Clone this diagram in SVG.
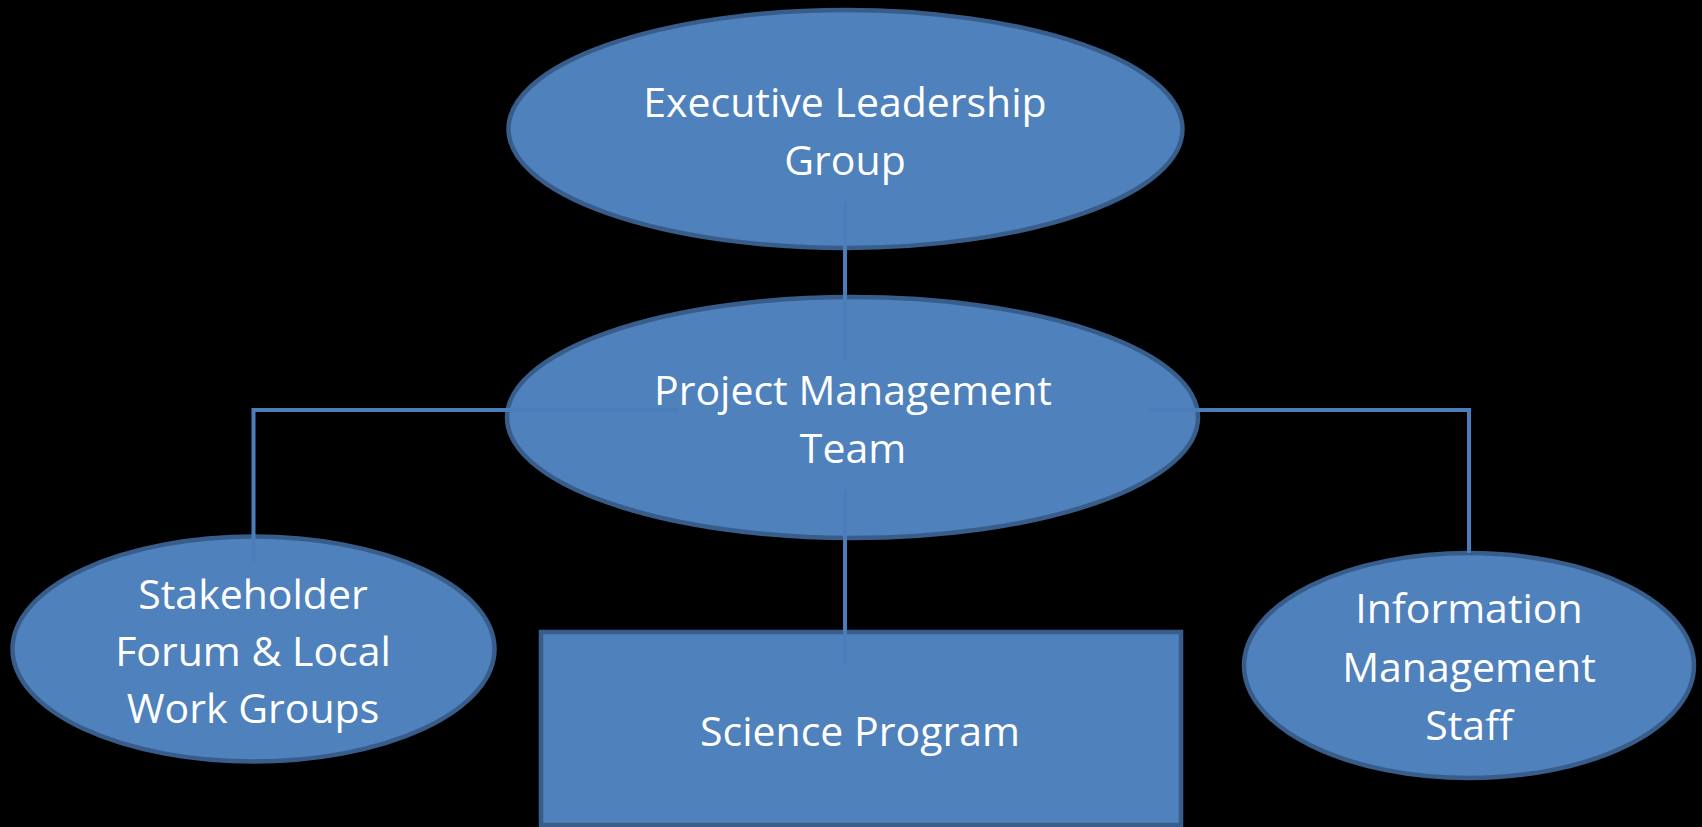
<svg xmlns="http://www.w3.org/2000/svg" width="1702" height="827" viewBox="0 0 1702 827">
<style>
.node{fill:#4F81BD;stroke:#385D8A;stroke-width:4.5}
.conn{fill:none;stroke:#4A7EBB;stroke-width:4}
.lbl{font-family:"Open Sans","Liberation Sans",sans-serif;font-size:41px;fill:#FFFFFF;text-anchor:middle}
</style>
<rect x="0" y="0" width="1702" height="827" fill="#000000"/>
<g id="exec"><ellipse class="node" cx="845.5" cy="129" rx="337" ry="119"/>
<text class="lbl" x="845" y="117">Executive Leadership</text><text class="lbl" x="845" y="175">Group</text></g>
<g id="pmt"><ellipse class="node" cx="852.5" cy="417.5" rx="345.5" ry="120.5"/>
<text class="lbl" x="853" y="405">Project Management</text><text class="lbl" x="853" y="463">Team</text></g>
<g id="stake"><ellipse class="node" cx="253.5" cy="649" rx="241" ry="112.5"/>
<text class="lbl" x="253" y="609">Stakeholder</text><text class="lbl" x="253" y="666">Forum &amp; Local</text><text class="lbl" x="253" y="723">Work Groups</text></g>
<g id="info"><ellipse class="node" cx="1469" cy="665.5" rx="225" ry="112.5"/>
<text class="lbl" x="1469" y="623">Information</text><text class="lbl" x="1469" y="682">Management</text><text class="lbl" x="1469" y="740">Staff</text></g>
<g id="science"><rect class="node" x="541" y="632" width="640" height="193"/>
<text class="lbl" x="860" y="746">Science Program</text></g>
<g id="connectors">
<path class="conn" d="M845 202V360"/>
<path class="conn" d="M845 490V665"/>
<path class="conn" d="M678 410H253.5V562"/>
<path class="conn" d="M1149 410H1469V553"/>
</g>
</svg>
